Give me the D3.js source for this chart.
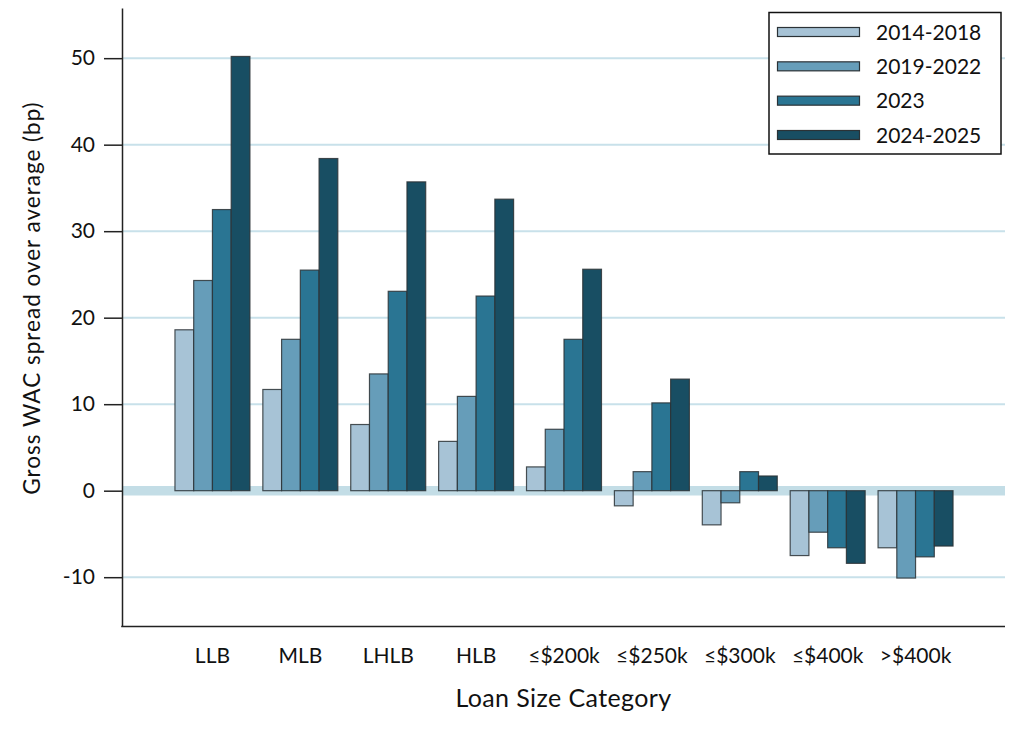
<!DOCTYPE html>
<html>
<head>
<meta charset="utf-8">
<script src="https://cdn.jsdelivr.net/npm/d3@7"></script>
<style>
  html, body { margin: 0; padding: 0; background: #fff; }
  svg { display: block; }
  text { font-family: Lato, "Open Sans", sans-serif; fill: #111; }
</style>
</head>
<body>
<svg id="chart" width="1024" height="736"></svg>
<script>
const categories = ["LLB", "MLB", "LHLB", "HLB", "≤$200k", "≤$250k", "≤$300k", "≤$400k", ">$400k"];
const seriesNames = ["2014-2018", "2019-2022", "2023", "2024-2025"];
const s2014_2018 = [18.6, 11.7, 7.65, 5.7, 2.75, -1.75, -3.95, -7.5, -6.6];
const s2019_2022 = [24.3, 17.5, 13.5, 10.9, 7.1, 2.2, -1.4, -4.8, -10.1];
const s2023      = [32.5, 25.5, 23.05, 22.5, 17.5, 10.15, 2.2, -6.6, -7.65];
const s2024_2025 = [50.2, 38.4, 35.7, 33.7, 25.6, 12.9, 1.7, -8.4, -6.4];
const yTicks = [-10, 0, 10, 20, 30, 40, 50];
const colors = ["#a7c3d6", "#669db9", "#2a7593", "#184e63"];

const seriesValues = [s2014_2018, s2019_2022, s2023, s2024_2025];

const svg = d3.select("#chart");
const plotLeft = 122, plotRight = 1005, plotTop = 8, plotBottom = 626.5;

const y = d3.scaleLinear().domain([-15.7, 55.8]).range([plotBottom, plotTop]);
const x = d3.scaleBand().domain(categories).range([168.5, 959.5])
  .paddingInner(0.147).paddingOuter(0.0735);
const xs = d3.scaleBand().domain(seriesNames).range([0, x.bandwidth()]).padding(0);
const color = d3.scaleOrdinal().domain(seriesNames).range(colors);

// gridlines
svg.append("g").selectAll("line")
  .data(yTicks.filter(d => d !== 0))
  .join("line")
  .attr("x1", plotLeft).attr("x2", plotRight)
  .attr("y1", d => y(d)).attr("y2", d => y(d))
  .attr("stroke", "#c8e1ea").attr("stroke-width", 2);

// zero band
svg.append("line")
  .attr("x1", plotLeft).attr("x2", plotRight)
  .attr("y1", y(0)).attr("y2", y(0))
  .attr("stroke", "#c3dde6").attr("stroke-width", 9.5);

// bars
const data = [];
categories.forEach((c, i) => {
  seriesNames.forEach((s, j) => {
    data.push({ cat: c, series: s, value: seriesValues[j][i] });
  });
});

svg.append("g").selectAll("rect")
  .data(data)
  .join("rect")
  .attr("x", d => x(d.cat) + xs(d.series))
  .attr("width", xs.bandwidth())
  .attr("y", d => y(Math.max(0, d.value)))
  .attr("height", d => Math.abs(y(d.value) - y(0)))
  .attr("fill", d => color(d.series))
  .attr("stroke", "#2b3236")
  .attr("stroke-opacity", 0.85)
  .attr("stroke-width", 1.2);

// y axis
const yAxis = d3.axisLeft(y).tickValues(yTicks).tickSize(18).tickSizeOuter(0).tickPadding(9)
  .tickFormat(d => String(d));
const gy = svg.append("g").attr("transform", `translate(${plotLeft},0)`).call(yAxis);
gy.select(".domain").attr("stroke", "#222").attr("stroke-width", 1.5);
gy.selectAll(".tick line").attr("stroke", "#222").attr("stroke-width", 1.5);
gy.selectAll(".tick text").style("font-size", "21px").style("font-family", "Lato, sans-serif").attr("fill", "#111");

// x axis line
svg.append("line")
  .attr("x1", plotLeft - 0.75).attr("x2", plotRight)
  .attr("y1", plotBottom).attr("y2", plotBottom)
  .attr("stroke", "#222").attr("stroke-width", 1.5);

// category labels
svg.append("g").selectAll("text")
  .data(categories)
  .join("text")
  .attr("x", d => x(d) + x.bandwidth() / 2)
  .attr("y", 662.5)
  .attr("text-anchor", "middle")
  .style("font-size", "21px")
  .text(d => d);

// axis titles
svg.append("text")
  .attr("x", (plotLeft + plotRight) / 2)
  .attr("y", 707)
  .attr("text-anchor", "middle")
  .style("font-size", "25px")
  .style("letter-spacing", "0.4px")
  .text("Loan Size Category");

svg.append("text")
  .attr("transform", "translate(40,298) rotate(-90)")
  .attr("text-anchor", "middle")
  .style("font-size", "22.5px")
  .style("letter-spacing", "1px")
  .text("Gross WAC spread over average (bp)");

// legend
const lg = svg.append("g");
lg.append("rect")
  .attr("x", 769).attr("y", 12.5).attr("width", 232).attr("height", 141.5)
  .attr("fill", "#fff").attr("stroke", "#111").attr("stroke-width", 1.5);
const legendY = d3.scalePoint().domain(seriesNames).range([32, 135]);
const items = lg.selectAll("g.item").data(seriesNames).join("g").attr("class", "item");
items.append("rect")
  .attr("x", 777.5).attr("y", d => legendY(d) - 4.5)
  .attr("width", 82).attr("height", 9)
  .attr("fill", d => color(d))
  .attr("stroke", "#2b3236").attr("stroke-width", 1.2);
items.append("text")
  .attr("x", 876).attr("y", d => legendY(d))
  .attr("dy", "0.36em")
  .style("font-size", "21px")
  .text(d => d);
</script>
</body>
</html>
